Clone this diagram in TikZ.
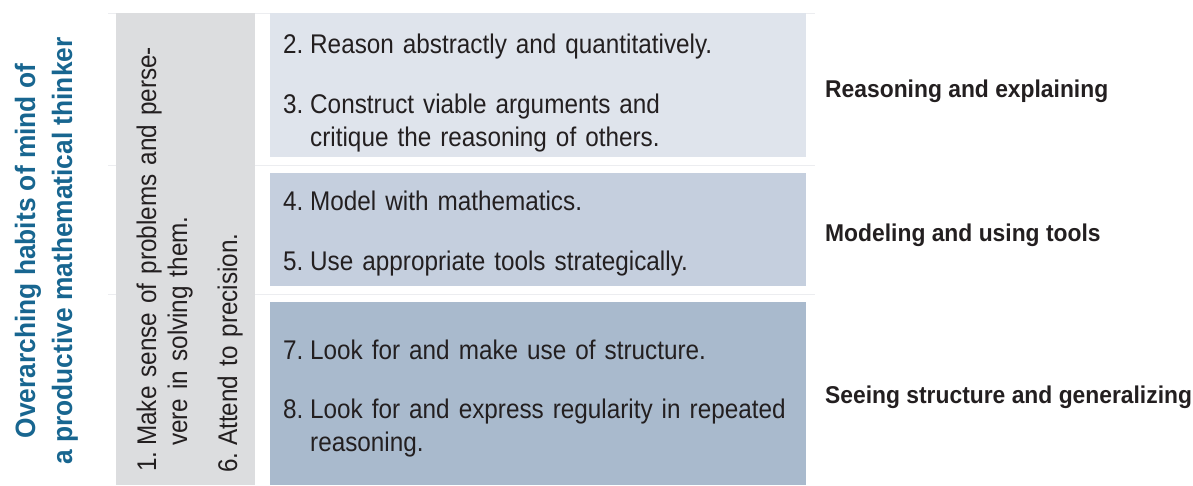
\documentclass[tikz,border=0pt]{standalone}
\usepackage{fontspec}
\setmainfont[FakeStretch=0.9]{Liberation Sans}
\newfontfamily\headfont[FakeStretch=0.94]{Liberation Sans}
\usetikzlibrary{positioning}
\definecolor{habitblue}{RGB}{24,102,144}
\definecolor{inktext}{RGB}{35,31,32}
\definecolor{colgray}{RGB}{220,221,223}
\definecolor{bandone}{RGB}{223,228,236}
\definecolor{bandtwo}{RGB}{197,207,222}
\definecolor{bandthree}{RGB}{169,186,205}
\definecolor{rulegray}{RGB}{236,237,240}
\tikzstyle{practice} = [anchor=base west, inner sep=0pt, text=inktext,
    text width=500pt, align=left, font=\fontsize{27}{33}\selectfont]
\tikzstyle{number} = [anchor=base west, inner sep=0pt, text=inktext,
    font=\fontsize{27}{33}\selectfont]
\tikzstyle{vpractice} = [practice, rotate=90, font=\fontsize{27}{31}\selectfont]
\tikzstyle{vnumber} = [number, rotate=90]
\tikzstyle{category} = [anchor=base west, inner sep=0pt, text=inktext,
    font=\headfont\bfseries\fontsize{24.3}{28}\selectfont]
\tikzstyle{heading} = [anchor=base, inner sep=0pt, rotate=90, text=habitblue,
    font=\headfont\bfseries\fontsize{28}{34}\selectfont]
\tikzstyle{band} = [draw=none]

\begin{document}
\begin{tikzpicture}[x=1pt, y=-1pt]
\useasboundingbox (0,0) rectangle (1193,485);

\draw [rulegray] (108,13) -- (815,13);
\draw [rulegray] (108,165) -- (815,165);
\draw [rulegray] (108,294) -- (815,294);

\fill [band, colgray] (116,13) rectangle (255,485);
\fill [band, bandone] (270,13) rectangle (806,157);
\fill [band, bandtwo] (270,173) rectangle (806,286);
\fill [band, bandthree] (270,302) rectangle (806,485);

\node [heading] (title1) at (35,251) {Overarching habits of mind of};
\node [heading] (title2) at (72,251) {a productive mathematical thinker};

\node [vnumber] (n1) at (156,472) {1.};
\node [vpractice] (p1) at (156,446) {Make sense of problems and perse-\\vere in solving them.};
\node [vnumber] (n6) at (237,473) {6.};
\node [vpractice] (p6) at (237,446) {Attend to precision.};

\node [number] (n2) at (283,53) {2.};
\node [practice] (p2) at (310,53) {Reason abstractly and quantitatively.};
\node [number] (n3) at (283,113) {3.};
\node [practice] (p3) at (310,113) {Construct viable arguments and\\critique the reasoning of others.};

\node [number] (n4) at (283,210) {4.};
\node [practice] (p4) at (310,210) {Model with mathematics.};
\node [number] (n5) at (283,270) {5.};
\node [practice] (p5) at (310,270) {Use appropriate tools strategically.};

\node [number] (n7) at (283,359) {7.};
\node [practice] (p7) at (310,359) {Look for and make use of structure.};
\node [number] (n8) at (283,418) {8.};
\node [practice] (p8) at (310,418) {Look for and express regularity in repeated\\reasoning.};

\node [category] (c1) at (825,97) {Reasoning and explaining};
\node [category] (c2) at (825,241) {Modeling and using tools};
\node [category] (c3) at (825,403) {Seeing structure and generalizing};
\end{tikzpicture}
\end{document}
